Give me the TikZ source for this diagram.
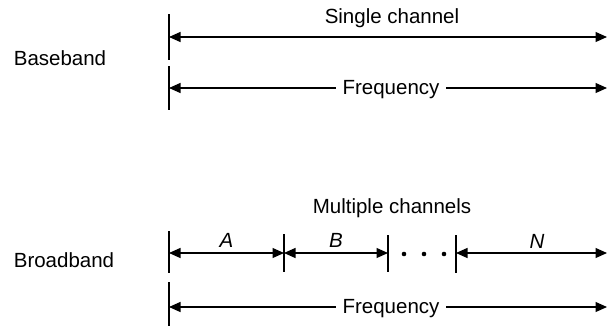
\documentclass[tikz,border=0pt]{standalone}
\usepackage{fontspec}
\setmainfont{Liberation Sans}
\usetikzlibrary{arrows.meta,positioning}

\begin{document}
\begin{tikzpicture}[x=1pt,y=-1pt,>={Triangle[length=11.5pt,width=10pt]},line width=1.2pt,
    font=\fontsize{20.5}{24}\selectfont,
    tick/.style={line width=1.1pt},
    lbl/.style={anchor=base,inner sep=0pt},
    freq/.style={anchor=base,fill=white,inner xsep=7pt,inner ysep=0pt}]

    \useasboundingbox (0,0) rectangle (608,327);

    % baseband
    \node[lbl] (bb) at (60,65) {Baseband};
    \node[lbl] (single) at (392,23) {Single channel};

    \coordinate (s0) at (169,37);  \coordinate (s1) at (607,37);
    \coordinate (f0) at (169,88);  \coordinate (f1) at (607,88);
    \coordinate (st) at (169,14);  \coordinate (sb) at (169,60);
    \coordinate (ft) at (169,66);  \coordinate (fb) at (169,110);

    \draw[tick] (st) -- (sb);
    \draw[tick] (ft) -- (fb);
    \draw[<->] (s0) -- (s1);
    \draw[<->] (f0) -- (f1);
    \node[freq] (freq1) at (391,94) {Frequency};

    % broadband
    \node[lbl] (brb) at (64,267) {Broadband};
    \node[lbl] (multi) at (392,213) {Multiple channels};

    \coordinate (a0) at (169,253);  \coordinate (a1) at (284,253);
    \coordinate (b1) at (388,253);  \coordinate (n0) at (456,253);
    \coordinate (n1) at (607,253);
    \coordinate (g0) at (169,307);  \coordinate (g1) at (607,307);

    \draw[tick] (169,231) -- (169,273);
    \draw[tick] (284,234) -- (284,272);
    \draw[tick] (388,235) -- (388,272);
    \draw[tick] (456,235) -- (456,273);
    \draw[tick] (169,282) -- (169,326);

    \draw[<->] (a0) -- node[lbl,above=5pt] (la) {\itshape A} (a1);
    \draw[<->] (a1) -- node[lbl,above=5pt] (lb) {\itshape B} (b1);
    \draw[<->] (n0) -- (n1);
    \node[lbl] (ln) at (537,248) {\itshape N};
    \foreach \x in {404,424,444}
        \fill (\x,254) circle (2.3pt);

    \draw[<->] (g0) -- (g1);
    \node[freq] (freq2) at (391,313) {Frequency};

\end{tikzpicture}
\end{document}
